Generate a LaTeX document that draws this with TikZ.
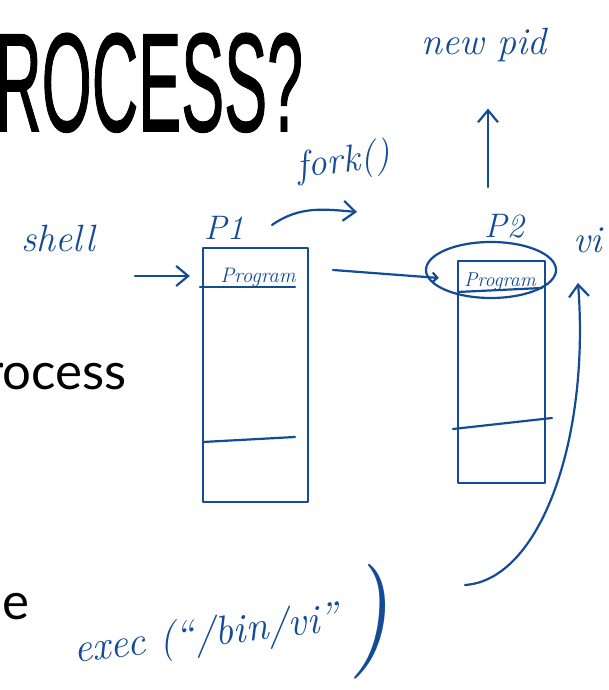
\documentclass[tikz,border=0pt]{standalone}
\usepackage{fontspec}
\usepackage{graphicx}
\usetikzlibrary{arrows.meta,shapes.geometric}
\definecolor{ink}{RGB}{20,75,150}
\newfontfamily\titlefont[FakeBold=1.2]{Liberation Sans}
\newfontfamily\slidefont{Lato}

\begin{document}
\begin{tikzpicture}[x=1pt,y=1pt,
hand/.style={ink,line width=2.2pt,line cap=round,line join=round},
handarrow/.style={hand,-{Straight Barb[length=12pt,width=20pt]}},
scrawl/.style={ink,font=\itshape\fontsize{38}{40}\selectfont,inner sep=1pt},
memo/.style={ink,font=\itshape\fontsize{21}{22}\selectfont,inner sep=1pt},
membox/.style={hand,draw,rectangle,inner sep=0pt},
]
\useasboundingbox (0,0) rectangle (608,690);
\clip (0,0) rectangle (608,690);

% slide underneath
\node[anchor=base west,inner sep=0pt] (title) at (-5,559)
{\raisebox{0pt}[\height][0pt]{\scalebox{0.46}[1]{\titlefont\fontsize{140}{140}\selectfont ROCESS?}}};
\node[anchor=base east,inner sep=0pt] (point) at (127,300)
{\slidefont\fontsize{51}{51}\selectfont rocess};
\node[anchor=base east,inner sep=0pt] (item) at (30,70)
{\slidefont\fontsize{51}{51}\selectfont le};

% notes
\node[scrawl,anchor=base] (newpid) at (484,635) {new pid};
\node[scrawl,anchor=base,rotate=8] (fork) at (345,518) {fork()};
\node[scrawl,anchor=base] (shell) at (58,438) {shell};
\node[scrawl,anchor=base,font=\itshape\fontsize{34}{36}\selectfont] (p1) at (224,450) {P1};
\node[scrawl,anchor=base,font=\itshape\fontsize{34}{36}\selectfont] (p2) at (504,452) {P2};
\node[scrawl,anchor=base] (vi) at (588,437) {vi};

% first process
\node[membox,minimum width=105pt,minimum height=254pt] (p1box) at (255.5,315) {};
\node[memo,anchor=base] (p1prog) at (258,407) {Program};
\draw[hand] (200,403) -- (295,403);
\draw[hand] (203,248) -- (295,253);

% second process
\node[membox,minimum width=87pt,minimum height=222pt] (p2box) at (501.5,318) {};
\node[memo,anchor=base,font=\itshape\fontsize{20}{22}\selectfont] (p2prog) at (500,403) {Program};
\draw[hand] (458,398) -- (542,402);
\draw[hand] (453,261) -- (552,272);
\node[hand,draw,ellipse,minimum width=130pt,minimum height=56pt] (p2oval) at (491,420) {};

% arrows
\coordinate (entry) at (135,414);
\draw[handarrow] (entry) -- ([xshift=-12pt]p1box.west |- entry);
\coordinate (forkfrom) at (272,465);
\coordinate (forkto) at (357,478);
\draw[handarrow] (forkfrom) to[out=35,in=175] (forkto);
\coordinate (pidfoot) at (488,503);
\draw[handarrow,shorten >=45pt] (pidfoot) -- (pidfoot |- newpid.south);
\coordinate (copyfrom) at (333,420);
\draw[hand,-{Straight Barb[length=5pt,width=10pt]}] (copyfrom) -- ([xshift=14pt,yshift=-8pt]p2oval.west);

\node[ink,anchor=base west,rotate=7,inner sep=0pt,font=\itshape\fontsize{41}{41}\selectfont] (exec) at (75,27)
{exec (``/bin/vi''\,\raisebox{-22pt}{\fontsize{112}{112}\selectfont)}};
\coordinate (execout) at (465,105);
\coordinate (vitip) at (578,407);
\draw[handarrow] (execout) .. controls (540,110) and (590,250) .. (vitip);
\end{tikzpicture}
\end{document}
